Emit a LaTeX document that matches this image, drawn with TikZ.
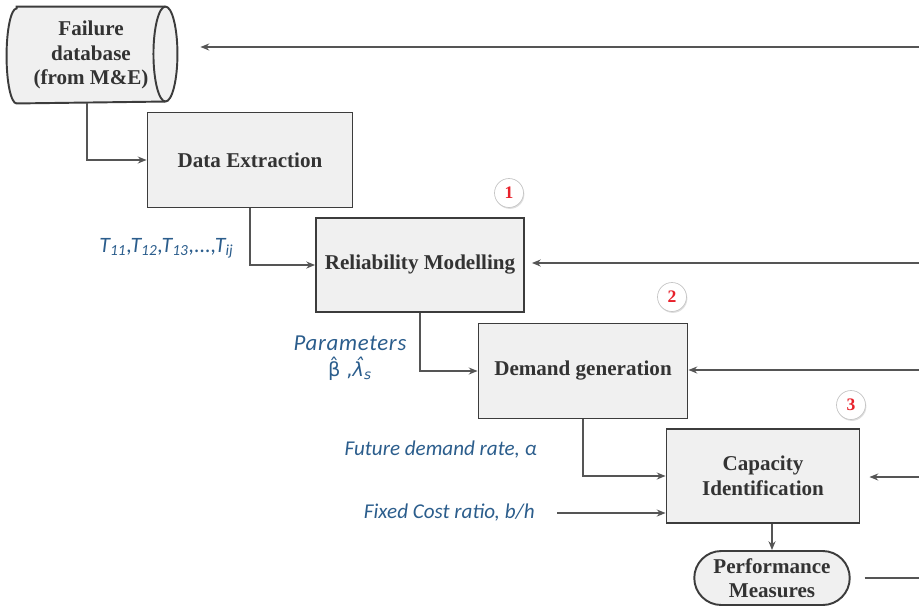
\documentclass[tikz,border=0pt]{standalone}
\usepackage{fontspec}
\setmainfont{Liberation Serif}
\newfontfamily\labelfont{Carlito}
\newfontfamily\greekfont{DejaVu Sans}
\usetikzlibrary{shapes.misc,shadows,arrows.meta,backgrounds}
\definecolor{boxfill}{HTML}{F0F0F0}
\definecolor{boxline}{HTML}{3C3C3C}
\definecolor{flowline}{HTML}{555555}
\definecolor{labelblue}{HTML}{2B5D8C}
\definecolor{stepred}{HTML}{E8202A}
\begin{document}
\begin{tikzpicture}[x=0.02cm,y=-0.02cm,
  box/.style={draw=boxline,line width=1.1pt,fill=boxfill,text=black!80,align=center,font=\fontsize{12}{14}\selectfont\bfseries},
  flow/.style={draw=flowline,line width=0.8pt,-{Stealth[length=5pt,width=4pt]}},
  lbl/.style={inner sep=0pt,text=labelblue,font=\labelfont\itshape\fontsize{12}{14}\selectfont},
  stepno/.style={circle,draw=gray!45,fill=white,minimum size=0.58cm,inner sep=0pt,text=stepred,font=\bfseries,drop shadow={opacity=0.25,shadow xshift=0.5pt,shadow yshift=-0.8pt}}]
\useasboundingbox (0,0) rectangle (919,609);
\node[box,draw=none,fill=none,minimum width=2.94cm,minimum height=1.9cm] (db) at (91,55) {Failure\\database\\(from M\&E)};
\begin{scope}[on background layer]
\draw[boxline,line width=1.1pt,fill=boxfill] (db.north west) -- (db.north east)
  arc[start angle=90,end angle=-90,x radius=0.24cm,y radius=0.95cm] -- (db.south west)
  arc[start angle=270,end angle=90,x radius=0.2cm,y radius=0.95cm] -- cycle;
\draw[boxline,line width=1.1pt] (db.north east) arc[start angle=90,end angle=270,x radius=0.24cm,y radius=0.95cm];
\end{scope}
\node[box,minimum width=4.1cm,minimum height=1.9cm] (de) at (250,160) {Data Extraction};
\node[box,minimum width=4.16cm,minimum height=1.88cm] (rm) at (420,265) {Reliability Modelling};
\node[box,minimum width=4.18cm,minimum height=1.9cm] (dg) at (583,371) {Demand generation};
\node[box,minimum width=3.86cm,minimum height=1.88cm] (ci) at (763,476) {Capacity\\Identification};
\node[box,rounded rectangle,minimum width=3.18cm,minimum height=1.08cm,inner sep=1pt] (pm) at (772,578) {Performance\\Measures};
\node[stepno] (n1) at (509,193) {1};
\node[stepno] (n2) at (672,297) {2};
\node[stepno] (n3) at (851,405) {3};
\node[lbl,anchor=east,font=\labelfont\itshape\fontsize{12.5}{14}\selectfont] (tl) at (234,248) {T\textsubscript{11},T\textsubscript{12},T\textsubscript{13},...,T\textsubscript{ij}};
\node[lbl,align=center,font=\labelfont\itshape\fontsize{13}{15}\selectfont] (pl) at (350,358) {\addfontfeature{LetterSpace=3}Parameters\\{\greekfont\upshape\fontsize{11}{13}\selectfont β̂ ,\itshape λ̂\textsubscript{s}}};
\node[lbl,anchor=east] (fd) at (537,450) {Future demand rate, α};
\node[lbl,anchor=east] (fc) at (535,513) {Fixed Cost ratio, b/h};
\coordinate (r1) at (919,47);
\coordinate (r2) at (919,263);
\coordinate (r3) at (919,370);
\coordinate (r4) at (919,477);
\coordinate (r5) at (919,580);
\draw[flow] ([xshift=-0.08cm]db.south) |- (de.west);
\draw[flow] (de.south) |- (rm.west);
\draw[flow] (rm.south) |- (dg.west);
\draw[flow] (dg.south) |- (ci.west);
\draw[flow] ([xshift=0.44cm]fc.east) -- (fc.east -| ci.west);
\draw[flow] (pm.north |- ci.south) -- (pm.north);
\draw[flow,shorten >=0.7cm] (r1) -- (r1 -| db.east);
\draw[flow,shorten >=0.14cm] (r2) -- (r2 -| rm.east);
\draw[flow] (r3) -- (r3 -| dg.east);
\draw[flow,shorten >=0.18cm] (r4) -- (r4 -| ci.east);
\draw[flow,-,shorten <=0.28cm] (pm.east) -- (pm.east -| r5);
\end{tikzpicture}
\end{document}
